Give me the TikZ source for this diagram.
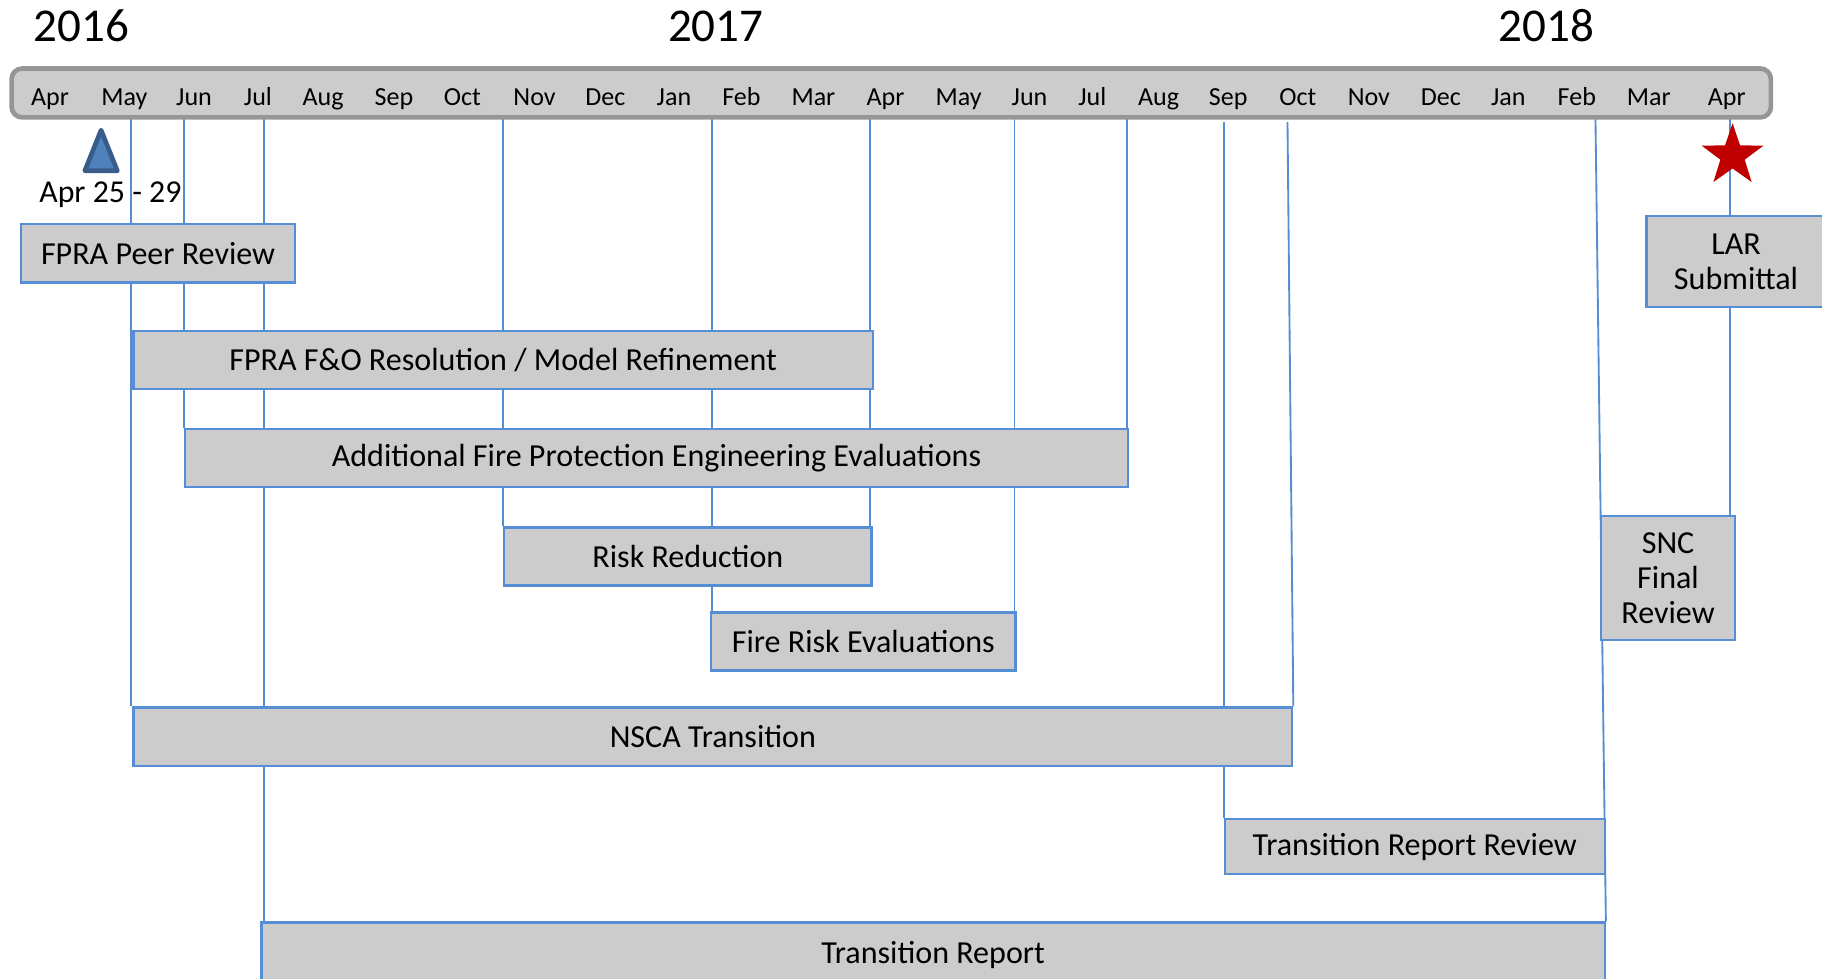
\documentclass[tikz,border=0pt]{standalone}
\usepackage{fontspec}
\setmainfont{Carlito}
\definecolor{boxfill}{HTML}{CCCCCC}
\definecolor{boxline}{HTML}{558ED5}
\definecolor{barline}{HTML}{969696}
\definecolor{trifill}{HTML}{4F81BD}
\definecolor{triline}{HTML}{385D8A}
\definecolor{starred}{HTML}{C00000}
\pgfdeclarelayer{bg}
\pgfsetlayers{bg,main}
\begin{document}
\begin{tikzpicture}[x=1pt,y=-1pt,
  task/.style={draw=boxline, line width=2pt, fill=boxfill, inner sep=0pt, anchor=north west, align=center, font=\fontsize{27.6}{30}\selectfont},
  link/.style={draw=boxline, line width=1.6pt},
  month/.style={font=\fontsize{22.4}{26}\selectfont, anchor=base, inner sep=0pt},
  yearlbl/.style={font=\fontsize{40.5}{44}\selectfont, anchor=base, inner sep=0pt}]
\useasboundingbox (0,0) rectangle (1568,842);
\clip (0,0) rectangle (1568,842);

% years
\node[yearlbl] (y16) at (70,36) {2016};
\node[yearlbl] (y17) at (616,36) {2017};
\node[yearlbl] (y18) at (1331,36) {2018};

% timeline bar
\node[draw=barline, line width=4pt, fill=boxfill, rounded corners=9pt, minimum width=1514pt, minimum height=42pt, anchor=north west, inner sep=0pt] (bar) at (8,57) {};

% months
\foreach \mx/\mn [count=\i] in {43/Apr,107/May,167/Jun,222/Jul,278/Aug,339/Sep,398/Oct,460/Nov,521/Dec,580/Jan,638/Feb,700/Mar,762/Apr,825/May,886/Jun,940/Jul,997/Aug,1057/Sep,1117/Oct,1178/Nov,1240/Dec,1298/Jan,1357/Feb,1419/Mar,1486/Apr}
  \node[month] (m\i) at (\mx,91) {\mn};

% task boxes
\node[task, minimum width=236pt, minimum height=50pt] (peer) at (17,192) {FPRA Peer Review};
\node[task, minimum width=636pt, minimum height=50pt] (fo) at (114,284) {FPRA F\&O Resolution / Model Refinement};
\node[task, minimum width=812pt, minimum height=50pt] (afpe) at (158,368) {Additional Fire Protection Engineering Evaluations};
\node[task, minimum width=316pt, minimum height=50pt] (rr) at (433,453) {Risk Reduction};
\node[task, minimum width=262pt, minimum height=50pt] (fre) at (611,526) {Fire Risk Evaluations};
\node[task, minimum width=997pt, minimum height=50pt] (nsca) at (114,608) {NSCA Transition};
\node[task, minimum width=327pt, minimum height=47pt] (trr) at (1053,704) {Transition Report Review};
\node[task, minimum width=1156pt, minimum height=56pt] (tr) at (224,793) {Transition Report};
\node[task, minimum width=154pt, minimum height=78pt] (lar) at (1416,185) {LAR\\Submittal};
\node[task, minimum width=115pt, minimum height=107pt] (snc) at (1377,443) {SNC\\Final\\Review};

% connector tops on the bar
\coordinate (tMay) at (113,99);
\coordinate (tJun) at (158,99);
\coordinate (tJul) at (227,99);
\coordinate (tNov) at (433,100);
\coordinate (tFeb) at (613,99);
\coordinate (tApr) at (749,99);
\coordinate (tJunB) at (873,99);
\coordinate (tAug) at (970,99);
\coordinate (tSep) at (1053,105);
\coordinate (tOct) at (1108,105);
\coordinate (tFebC) at (1373,99);
\coordinate (tAprC) at (1489,99);

\begin{pgfonlayer}{bg}
\draw[link] (tMay) -- (tMay |- nsca.north);
\draw[link] (tJun) -- (tJun |- afpe.north);
\draw[link] (tJul) -- (tJul |- tr.north);
\draw[link] (tNov) -- (tNov |- rr.north);
\draw[link] (tFeb) -- (tFeb |- fre.north);
\draw[link] (tApr) -- (tApr |- rr.north);
\draw[link] (tJunB) -- (tJunB |- fre.north);
\draw[link] (tAug) -- (tAug |- afpe.north);
\draw[link] (tSep) -- (tSep |- trr.north);
\draw[link] (tOct) -- (nsca.north east);
\draw[link] (tFebC) -- (tr.north east);
\draw[link] (tAprC) -- (tAprC |- snc.north);
\end{pgfonlayer}

% milestone triangle and label
\draw[fill=trifill, draw=triline, line width=4pt, line join=round] (87,112) -- (101,147) -- (73,147) -- cycle;
\node[font=\fontsize{27.4}{30}\selectfont, anchor=base, inner sep=0pt] (datelbl) at (95,174) {Apr 25 - 29};

% star
\fill[starred, shift={(1491,134)}] (-90:28) -- (-54:11) -- (-18:28) -- (18:11) -- (54:28) -- (90:11) -- (126:28) -- (162:11) -- (198:28) -- (234:11) -- cycle;
\end{tikzpicture}
\end{document}
